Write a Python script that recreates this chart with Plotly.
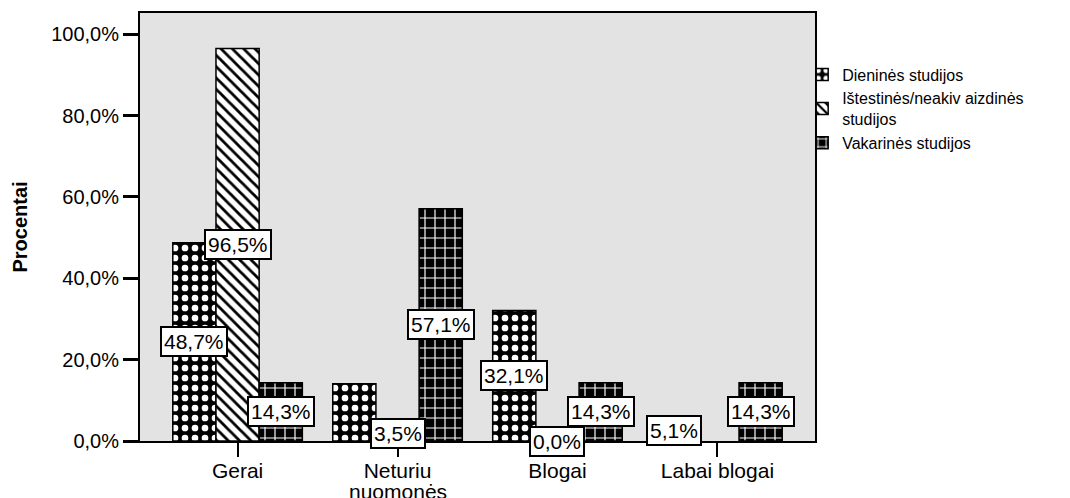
import plotly.graph_objects as go

categories = ["Gerai", "Neturiu<br>nuomonės", "Blogai", "Labai blogai"]
series_names = ["Dieninės studijos", "Ištestinės/neakiv aizdinės<br>studijos", "Vakarinės studijos"]
dieniness = [48.7, 14.1, 32.1, 5.1]
istestines = [96.5, 3.5, 0.0, None]
vakarines = [14.3, 57.1, 14.3, 14.3]
# which value labels are shown (the original chart omits the 14,1% label)
dieniness_labels = [True, False, True, True]
istestines_labels = [True, True, True, False]
vakarines_labels = [True, True, True, True]
y_ticks = [0, 20, 40, 60, 80, 100]
y_tick_text = ["0,0%", "20,0%", "40,0%", "60,0%", "80,0%", "100,0%"]

series_values = [dieniness, istestines, vakarines]
series_labels = [dieniness_labels, istestines_labels, vakarines_labels]
patterns = [
    dict(shape=".", fgcolor="white", bgcolor="black", size=10, solidity=0.35, fillmode="replace"),
    dict(shape="\\", fgcolor="black", bgcolor="white", size=8, solidity=0.35, fillmode="replace"),
    dict(shape="+", fgcolor="white", bgcolor="black", size=10, solidity=0.22, fillmode="replace"),
]

FONT = "Liberation Sans, Arial, sans-serif"
bargap = 0.19
bw = (1 - bargap) / 3

fig = go.Figure()
for name, vals, pat in zip(series_names, series_values, patterns):
    fig.add_trace(go.Bar(
        x=categories, y=vals, name=name,
        marker=dict(color=pat["bgcolor"], pattern=pat, line=dict(color="black", width=1.5)),
    ))

annotations = []
for j, (vals, shows) in enumerate(zip(series_values, series_labels)):
    for i, (v, show) in enumerate(zip(vals, shows)):
        if v is None or not show:
            continue
        annotations.append(dict(
            x=i + (j - 1) * bw, y=v / 2, xref="x", yref="y",
            text=f"{v:.1f}%".replace(".", ","), showarrow=False,
            font=dict(family=FONT, size=21, color="black"),
            bgcolor="white", bordercolor="black", borderwidth=2, borderpad=2,
        ))

# category labels: first line as tick label, following lines set tighter below it
tick_first = [c.split("<br>")[0] for c in categories]
for i, c in enumerate(categories):
    rest = c.split("<br>")[1:]
    if rest:
        annotations.append(dict(
            x=i, y=0, xref="x", yref="paper", yanchor="top", yshift=-37,
            text="<br>".join(rest), showarrow=False,
            font=dict(family=FONT, size=21, color="black"),
        ))

fig.update_layout(
    width=1070, height=498,
    margin=dict(l=132, r=263, t=5, b=65, autoexpand=False),
    paper_bgcolor="white", plot_bgcolor="#E3E3E3",
    barmode="group", bargap=bargap, bargroupgap=0,
    separators=",.",
    font=dict(family=FONT, size=18, color="black"),
    annotations=annotations,
    legend=dict(x=0.981, y=0.896, xanchor="left", yanchor="top",
                font=dict(family=FONT, size=16, color="black"),
                tracegroupgap=0, itemwidth=30, bgcolor="rgba(0,0,0,0)"),
    xaxis=dict(range=[-0.61, 3.61], showline=True, linecolor="black", linewidth=2, mirror=True,
               tickvals=categories, ticktext=tick_first, ticklabelstandoff=-4,
               ticks="outside", ticklen=14, tickwidth=2, tickcolor="black", automargin=False,
               tickfont=dict(family=FONT, size=21), showgrid=False),
    yaxis=dict(range=[0, 105.2], tickvals=y_ticks, ticktext=y_tick_text,
               showline=True, linecolor="black", linewidth=2, mirror=True, automargin=False,
               ticks="outside", ticklen=15, tickwidth=3, tickcolor="black",
               tickfont=dict(family=FONT, size=20), showgrid=False, zeroline=False,
               title=dict(text="<b>Procentai</b>", font=dict(family=FONT, size=20), standoff=18)),
)

fig.write_html("out.html")
